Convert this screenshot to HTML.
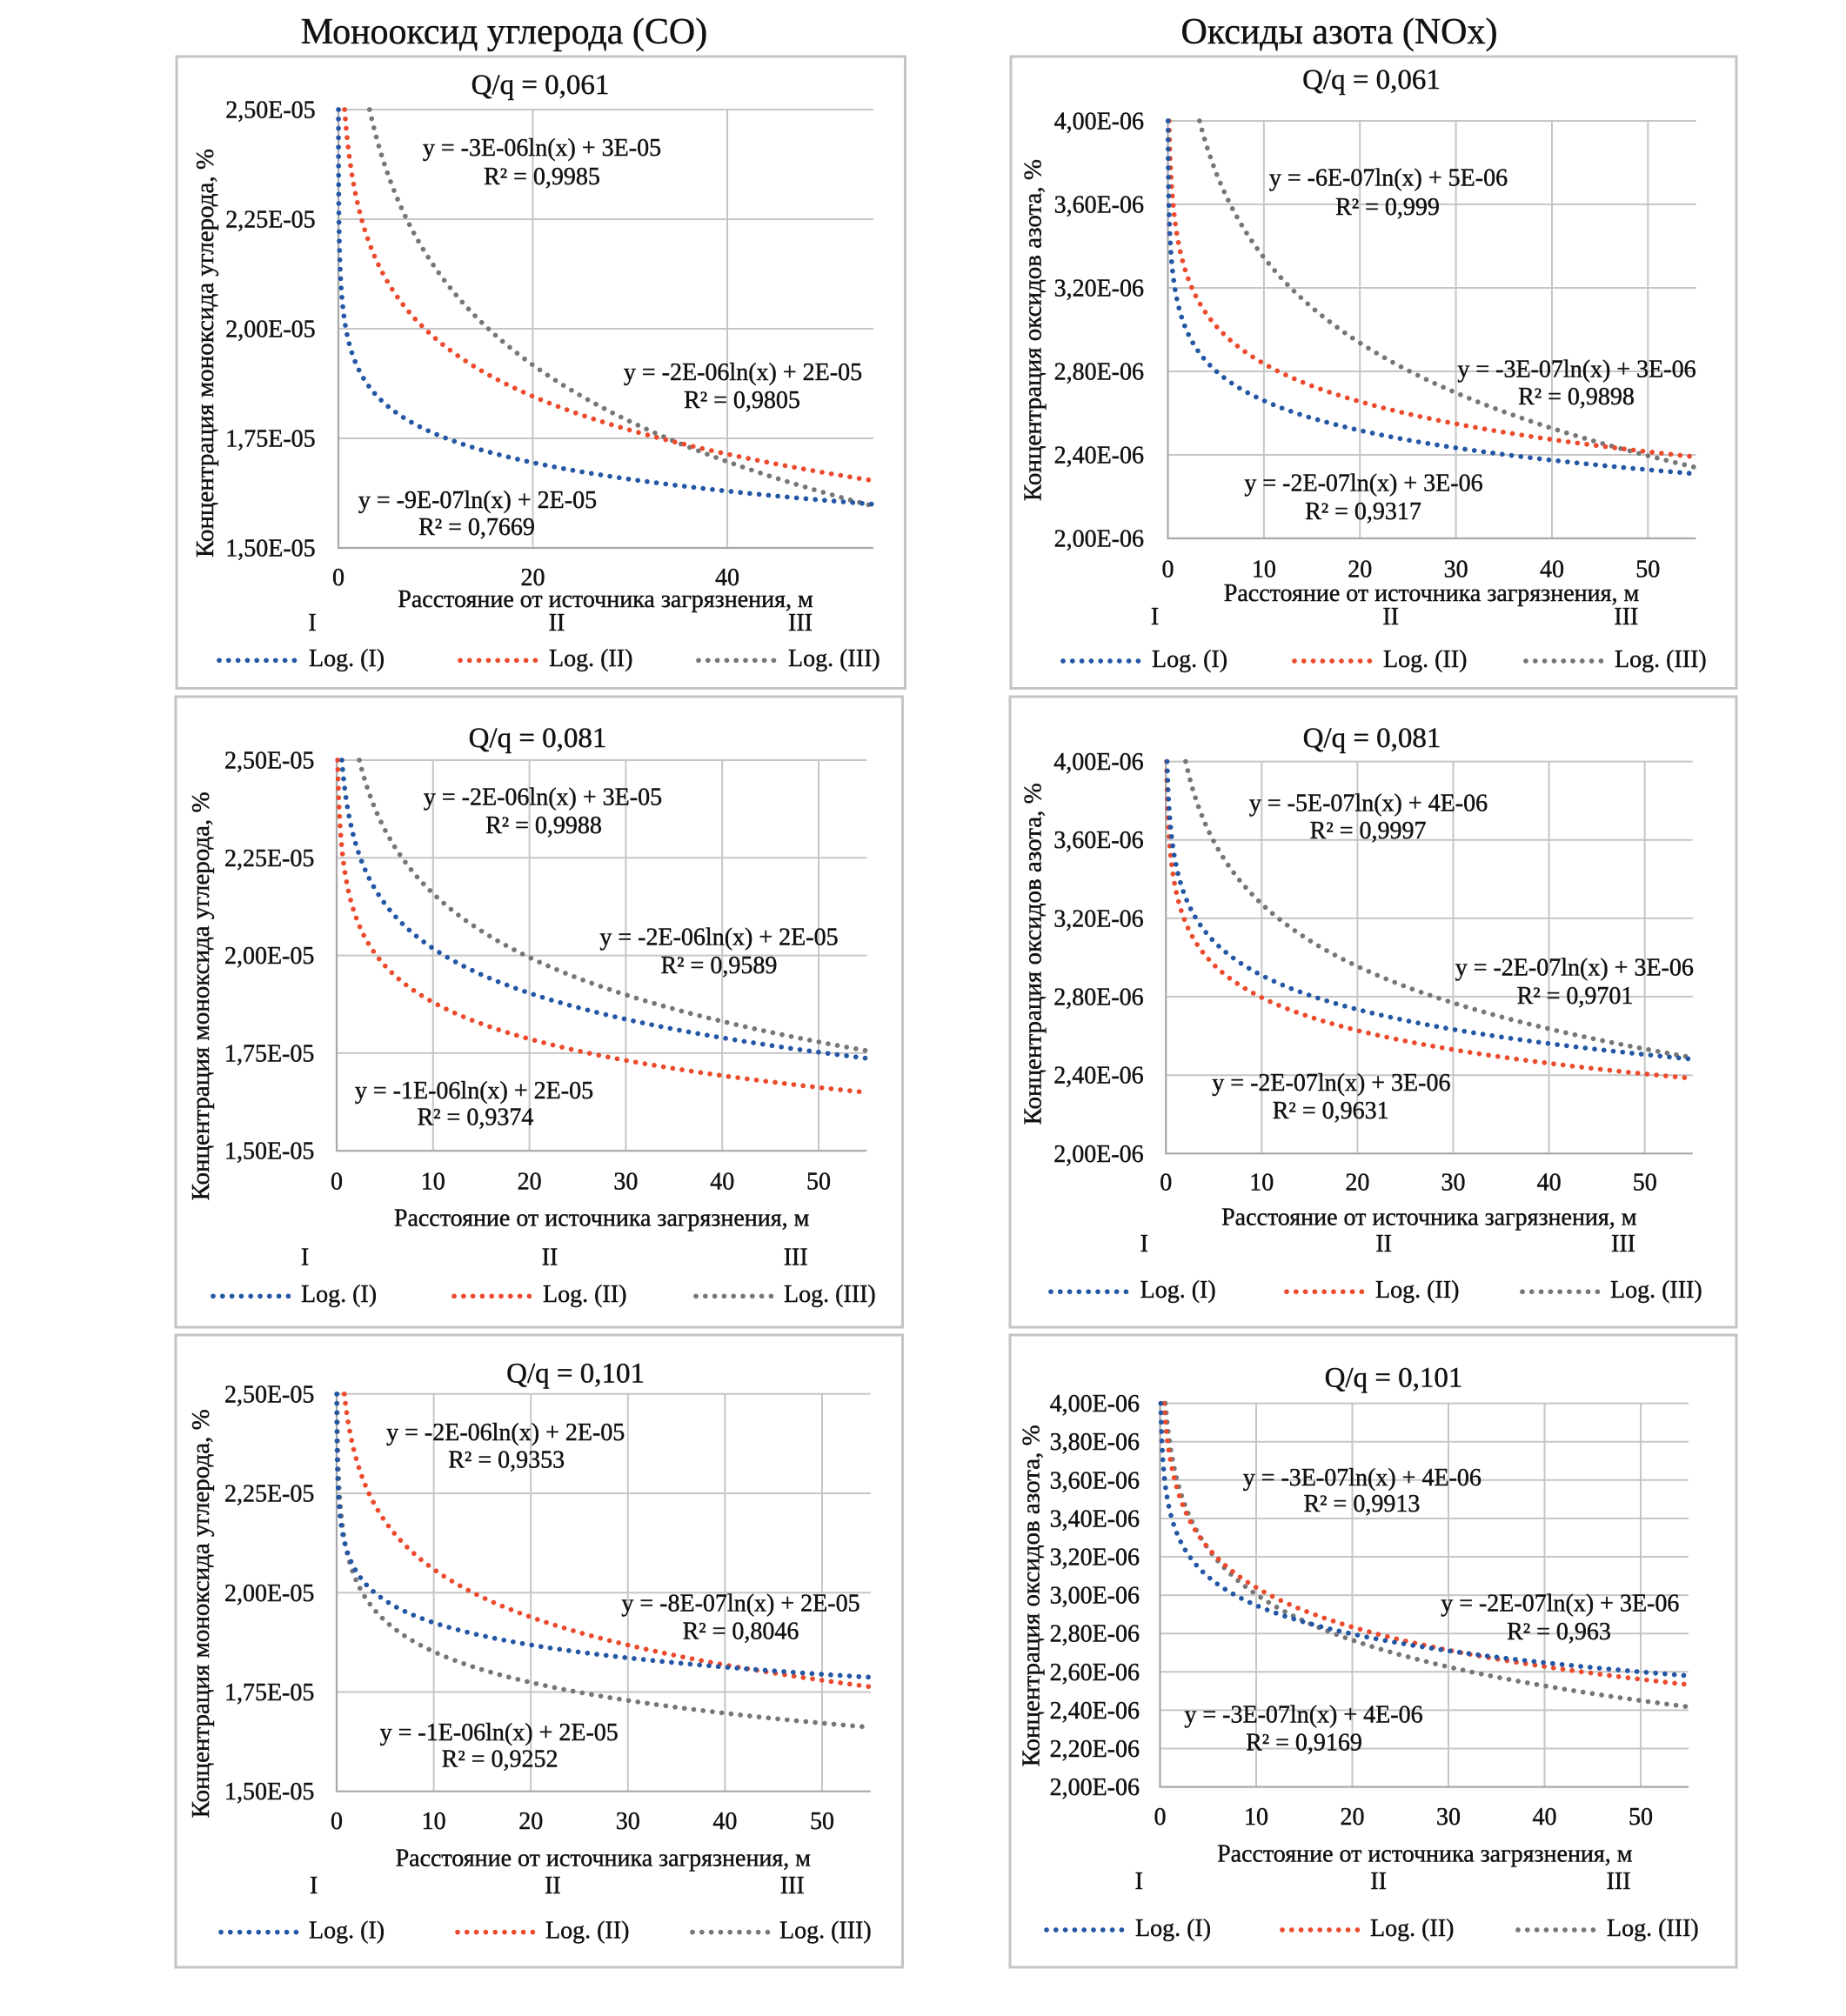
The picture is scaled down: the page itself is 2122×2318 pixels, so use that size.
<!DOCTYPE html>
<html><head><meta charset="utf-8">
<style>
html,body{margin:0;padding:0;background:#fff;}
svg{display:block;font-family:"Liberation Serif","Times New Roman",serif;}
text{fill:#111;stroke:#111;stroke-width:0.45px;}
.h{font-size:42px;text-anchor:middle;}
.q{font-size:33px;text-anchor:middle;}
.yt{font-size:28px;text-anchor:end;}
.xt{font-size:28px;text-anchor:middle;}
.xa{font-size:28px;text-anchor:middle;}
.ya{font-size:29px;text-anchor:middle;}
.r{font-size:28px;text-anchor:middle;}
.lg{font-size:28px;}
.eq{font-size:28px;text-anchor:middle;}
.box{fill:none;stroke:#c4c4c4;stroke-width:3;}
.grid{fill:none;stroke:#c6c6c6;stroke-width:2;}
.axis{fill:none;stroke:#a8a8a8;stroke-width:2.2;}
.dot{fill:none;stroke-linecap:round;stroke-dasharray:0 10.8;stroke-width:5.7;}
</style></head>
<body>
<svg id="s" width="2122" height="2318" viewBox="0 0 2122 2318" xmlns="http://www.w3.org/2000/svg">
<rect width="2122" height="2318" fill="#fff"/>

<!-- column titles -->
<text class="h" x="579.5" y="50">Монооксид углерода (CO)</text>
<text class="h" x="1539.5" y="50">Оксиды азота (NOx)</text>

<!-- boxes -->
<rect class="box" x="203" y="65" width="837.5" height="726.5"/>
<rect class="box" x="1162" y="65" width="834" height="726.5"/>
<rect class="box" x="202" y="801" width="835.5" height="725"/>
<rect class="box" x="1161" y="801" width="835" height="725"/>
<rect class="box" x="202" y="1535" width="835.5" height="727"/>
<rect class="box" x="1161" y="1535" width="835" height="727"/>

<!-- ================= PANEL A ================= -->
<path class="grid" d="M389 126H1004M389 252H1004M389 378H1004M389 504H1004M612.5 126V630M836 126V630"/>
<path class="axis" d="M389 126V630H1004"/>
<text class="q" x="621" y="108">Q/q = 0,061</text>
<text class="yt" x="362.7" y="135.5">2,50E-05</text>
<text class="yt" x="362.7" y="261.5">2,25E-05</text>
<text class="yt" x="362.7" y="387.5">2,00E-05</text>
<text class="yt" x="362.7" y="513.5">1,75E-05</text>
<text class="yt" x="362.7" y="639.5">1,50E-05</text>
<text class="xt" x="389" y="673">0</text>
<text class="xt" x="612.5" y="673">20</text>
<text class="xt" x="836" y="673">40</text>
<text class="xa" x="696" y="698">Расстояние от источника загрязнения, м</text>
<text class="ya" transform="translate(245,406) rotate(-90)">Концентрация моноксида углерода, %</text>
<text class="r" x="359" y="725">I</text>
<text class="r" x="640" y="725">II</text>
<text class="r" x="920" y="725">III</text>
<text class="eq" x="623" y="179">y = -3E-06ln(x) + 3E-05</text>
<text class="eq" x="623" y="212">R² = 0,9985</text>
<text class="eq" x="854" y="437">y = -2E-06ln(x) + 2E-05</text>
<text class="eq" x="853" y="469">R² = 0,9805</text>
<text class="eq" x="549" y="584">y = -9E-07ln(x) + 2E-05</text>
<text class="eq" x="548" y="615">R² = 0,7669</text>
<path class="dot" stroke="#2356a4" d="M252 759.3H341"/>
<text class="lg" x="355" y="766">Log. (I)</text>
<path class="dot" stroke="#ec4a2c" d="M529 759.3H618"/>
<text class="lg" x="631" y="766">Log. (II)</text>
<path class="dot" stroke="#767676" d="M803 759.3H892"/>
<text class="lg" x="906" y="766">Log. (III)</text>

<!-- ================= PANEL B ================= -->
<path class="grid" d="M1342.5 139H1949.5M1342.5 235H1949.5M1342.5 331H1949.5M1342.5 427H1949.5M1342.5 523H1949.5M1452.9 139V619M1563.2 139V619M1673.6 139V619M1784 139V619M1894.3 139V619"/>
<path class="axis" d="M1342.5 139V619H1949.5"/>
<text class="q" x="1576.5" y="102">Q/q = 0,061</text>
<text class="yt" x="1315" y="148.5">4,00E-06</text>
<text class="yt" x="1315" y="244.5">3,60E-06</text>
<text class="yt" x="1315" y="340.5">3,20E-06</text>
<text class="yt" x="1315" y="436.5">2,80E-06</text>
<text class="yt" x="1315" y="532.5">2,40E-06</text>
<text class="yt" x="1315" y="628.5">2,00E-06</text>
<text class="xt" x="1342.5" y="663.3">0</text>
<text class="xt" x="1452.9" y="663.3">10</text>
<text class="xt" x="1563.2" y="663.3">20</text>
<text class="xt" x="1673.6" y="663.3">30</text>
<text class="xt" x="1784" y="663.3">40</text>
<text class="xt" x="1894.3" y="663.3">50</text>
<text class="xa" x="1645.5" y="691">Расстояние от источника загрязнения, м</text>
<text class="ya" transform="translate(1196.5,379.5) rotate(-90)">Концентрация оксидов азота, %</text>
<text class="r" x="1327.5" y="718">I</text>
<text class="r" x="1598.7" y="718">II</text>
<text class="r" x="1869.4" y="718">III</text>
<text class="eq" x="1596" y="213.6">y = -6E-07ln(x) + 5E-06</text>
<text class="eq" x="1595" y="246.8">R² = 0,999</text>
<text class="eq" x="1812.5" y="433.3">y = -3E-07ln(x) + 3E-06</text>
<text class="eq" x="1812" y="465">R² = 0,9898</text>
<text class="eq" x="1567.5" y="564.7">y = -2E-07ln(x) + 3E-06</text>
<text class="eq" x="1567" y="596.8">R² = 0,9317</text>
<path class="dot" stroke="#2356a4" d="M1222 760H1311"/>
<text class="lg" x="1324" y="767">Log. (I)</text>
<path class="dot" stroke="#ec4a2c" d="M1488 760H1577"/>
<text class="lg" x="1590" y="767">Log. (II)</text>
<path class="dot" stroke="#767676" d="M1754 760H1843"/>
<text class="lg" x="1856" y="767">Log. (III)</text>

<!-- ================= PANEL C ================= -->
<path class="grid" d="M387 874H996.4M387 986.3H996.4M387 1098.6H996.4M387 1210.9H996.4M497.8 874V1323.2M608.6 874V1323.2M719.4 874V1323.2M830.2 874V1323.2M941 874V1323.2"/>
<path class="axis" d="M387 874V1323.2H996.4"/>
<text class="q" x="618" y="859.2">Q/q = 0,081</text>
<text class="yt" x="361.4" y="883.5">2,50E-05</text>
<text class="yt" x="361.4" y="995.8">2,25E-05</text>
<text class="yt" x="361.4" y="1108.1">2,00E-05</text>
<text class="yt" x="361.4" y="1220.4">1,75E-05</text>
<text class="yt" x="361.4" y="1332.7">1,50E-05</text>
<text class="xt" x="387" y="1367.7">0</text>
<text class="xt" x="497.8" y="1367.7">10</text>
<text class="xt" x="608.6" y="1367.7">20</text>
<text class="xt" x="719.4" y="1367.7">30</text>
<text class="xt" x="830.2" y="1367.7">40</text>
<text class="xt" x="941" y="1367.7">50</text>
<text class="xa" x="691.6" y="1409.6">Расстояние от источника загрязнения, м</text>
<text class="ya" transform="translate(240,1145.4) rotate(-90)">Концентрация моноксида углерода, %</text>
<text class="r" x="350.6" y="1454.5">I</text>
<text class="r" x="632" y="1454.5">II</text>
<text class="r" x="914.7" y="1454.5">III</text>
<text class="eq" x="624" y="925.6">y = -2E-06ln(x) + 3E-05</text>
<text class="eq" x="625" y="957.8">R² = 0,9988</text>
<text class="eq" x="826.5" y="1086.6">y = -2E-06ln(x) + 2E-05</text>
<text class="eq" x="826.4" y="1118.8">R² = 0,9589</text>
<text class="eq" x="545" y="1262.9">y = -1E-06ln(x) + 2E-05</text>
<text class="eq" x="546.4" y="1293.6">R² = 0,9374</text>
<path class="dot" stroke="#2356a4" d="M245 1490.3H334"/>
<text class="lg" x="346" y="1497">Log. (I)</text>
<path class="dot" stroke="#ec4a2c" d="M522 1490.3H611"/>
<text class="lg" x="624" y="1497">Log. (II)</text>
<path class="dot" stroke="#767676" d="M800 1490.3H889"/>
<text class="lg" x="901" y="1497">Log. (III)</text>

<!-- ================= PANEL D ================= -->
<path class="grid" d="M1340.2 875.6H1945.8M1340.2 965.7H1945.8M1340.2 1055.9H1945.8M1340.2 1146H1945.8M1340.2 1236.2H1945.8M1450.3 875.6V1326.3M1560.4 875.6V1326.3M1670.5 875.6V1326.3M1780.6 875.6V1326.3M1890.7 875.6V1326.3"/>
<path class="axis" d="M1340.2 875.6V1326.3H1945.8"/>
<text class="q" x="1577" y="859.2">Q/q = 0,081</text>
<text class="yt" x="1314.7" y="885.1">4,00E-06</text>
<text class="yt" x="1314.7" y="975.2">3,60E-06</text>
<text class="yt" x="1314.7" y="1065.4">3,20E-06</text>
<text class="yt" x="1314.7" y="1155.5">2,80E-06</text>
<text class="yt" x="1314.7" y="1245.7">2,40E-06</text>
<text class="yt" x="1314.7" y="1335.8">2,00E-06</text>
<text class="xt" x="1340.2" y="1368.7">0</text>
<text class="xt" x="1450.3" y="1368.7">10</text>
<text class="xt" x="1560.4" y="1368.7">20</text>
<text class="xt" x="1670.5" y="1368.7">30</text>
<text class="xt" x="1780.6" y="1368.7">40</text>
<text class="xt" x="1890.7" y="1368.7">50</text>
<text class="xa" x="1642.8" y="1408.5">Расстояние от источника загрязнения, м</text>
<text class="ya" transform="translate(1196.6,1096.8) rotate(-90)">Концентрация оксидов азота, %</text>
<text class="r" x="1315.3" y="1439.2">I</text>
<text class="r" x="1590.7" y="1439.2">II</text>
<text class="r" x="1866" y="1439.2">III</text>
<text class="eq" x="1573" y="932.3">y = -5E-07ln(x) + 4E-06</text>
<text class="eq" x="1572.6" y="964">R² = 0,9997</text>
<text class="eq" x="1809.8" y="1121.3">y = -2E-07ln(x) + 3E-06</text>
<text class="eq" x="1810.5" y="1154">R² = 0,9701</text>
<text class="eq" x="1530.4" y="1254.2">y = -2E-07ln(x) + 3E-06</text>
<text class="eq" x="1529.7" y="1285.9">R² = 0,9631</text>
<path class="dot" stroke="#2356a4" d="M1208 1485.2H1297"/>
<text class="lg" x="1310.6" y="1492">Log. (I)</text>
<path class="dot" stroke="#ec4a2c" d="M1479 1485.2H1568"/>
<text class="lg" x="1581" y="1492">Log. (II)</text>
<path class="dot" stroke="#767676" d="M1750 1485.2H1839"/>
<text class="lg" x="1851" y="1492">Log. (III)</text>

<!-- ================= PANEL E ================= -->
<path class="grid" d="M387 1602.8H1000.8M387 1717H1000.8M387 1831.3H1000.8M387 1945.5H1000.8M498.6 1602.8V2059.7M610.2 1602.8V2059.7M721.8 1602.8V2059.7M833.4 1602.8V2059.7M945 1602.8V2059.7"/>
<path class="axis" d="M387 1602.8V2059.7H1000.8"/>
<text class="q" x="661.6" y="1589.5">Q/q = 0,101</text>
<text class="yt" x="361.4" y="1612.3">2,50E-05</text>
<text class="yt" x="361.4" y="1726.5">2,25E-05</text>
<text class="yt" x="361.4" y="1840.8">2,00E-05</text>
<text class="yt" x="361.4" y="1955">1,75E-05</text>
<text class="yt" x="361.4" y="2069.2">1,50E-05</text>
<text class="xt" x="387" y="2103">0</text>
<text class="xt" x="498.6" y="2103">10</text>
<text class="xt" x="610.2" y="2103">20</text>
<text class="xt" x="721.8" y="2103">30</text>
<text class="xt" x="833.4" y="2103">40</text>
<text class="xt" x="945" y="2103">50</text>
<text class="xa" x="693.3" y="2145.5">Расстояние от источника загрязнения, м</text>
<text class="ya" transform="translate(240,1855.3) rotate(-90)">Концентрация моноксида углерода, %</text>
<text class="r" x="360.7" y="2177.2">I</text>
<text class="r" x="635.4" y="2177.2">II</text>
<text class="r" x="910.7" y="2177.2">III</text>
<text class="eq" x="581.2" y="1656">y = -2E-06ln(x) + 2E-05</text>
<text class="eq" x="582.2" y="1687.7">R² = 0,9353</text>
<text class="eq" x="851.5" y="1852.7">y = -8E-07ln(x) + 2E-05</text>
<text class="eq" x="851.5" y="1884.4">R² = 0,8046</text>
<text class="eq" x="573.7" y="2000.9">y = -1E-06ln(x) + 2E-05</text>
<text class="eq" x="574.6" y="2031.6">R² = 0,9252</text>
<path class="dot" stroke="#2356a4" d="M254 2221.6H343"/>
<text class="lg" x="355" y="2228.5">Log. (I)</text>
<path class="dot" stroke="#ec4a2c" d="M526 2221.6H615"/>
<text class="lg" x="627" y="2228.5">Log. (II)</text>
<path class="dot" stroke="#767676" d="M796 2221.6H885"/>
<text class="lg" x="896" y="2228.5">Log. (III)</text>

<!-- ================= PANEL F ================= -->
<path class="grid" d="M1333.5 1613.6H1941M1333.5 1657.7H1941M1333.5 1701.8H1941M1333.5 1745.9H1941M1333.5 1790H1941M1333.5 1834.1H1941M1333.5 1878.2H1941M1333.5 1922.3H1941M1333.5 1966.4H1941M1333.5 2010.5H1941M1444 1613.6V2054.6M1554.5 1613.6V2054.6M1665 1613.6V2054.6M1775.5 1613.6V2054.6M1886 1613.6V2054.6"/>
<path class="axis" d="M1333.5 1613.6V2054.6H1941"/>
<text class="q" x="1602" y="1594.7">Q/q = 0,101</text>
<text class="yt" x="1310" y="1623.1">4,00E-06</text>
<text class="yt" x="1310" y="1667.2">3,80E-06</text>
<text class="yt" x="1310" y="1711.3">3,60E-06</text>
<text class="yt" x="1310" y="1755.4">3,40E-06</text>
<text class="yt" x="1310" y="1799.5">3,20E-06</text>
<text class="yt" x="1310" y="1843.6">3,00E-06</text>
<text class="yt" x="1310" y="1887.7">2,80E-06</text>
<text class="yt" x="1310" y="1931.8">2,60E-06</text>
<text class="yt" x="1310" y="1975.9">2,40E-06</text>
<text class="yt" x="1310" y="2020">2,20E-06</text>
<text class="yt" x="1310" y="2064.1">2,00E-06</text>
<text class="xt" x="1333.5" y="2098">0</text>
<text class="xt" x="1444" y="2098">10</text>
<text class="xt" x="1554.5" y="2098">20</text>
<text class="xt" x="1665" y="2098">30</text>
<text class="xt" x="1775.5" y="2098">40</text>
<text class="xt" x="1886" y="2098">50</text>
<text class="xa" x="1637.8" y="2140.4">Расстояние от источника загрязнения, м</text>
<text class="ya" transform="translate(1194.6,1834.8) rotate(-90)">Концентрация оксидов азота, %</text>
<text class="r" x="1309.3" y="2172">I</text>
<text class="r" x="1584.6" y="2172">II</text>
<text class="r" x="1860.6" y="2172">III</text>
<text class="eq" x="1565.8" y="1708">y = -3E-07ln(x) + 4E-06</text>
<text class="eq" x="1565.4" y="1738">R² = 0,9913</text>
<text class="eq" x="1793.3" y="1852.7">y = -2E-07ln(x) + 3E-06</text>
<text class="eq" x="1792" y="1884.9">R² = 0,963</text>
<text class="eq" x="1498.5" y="1980.5">y = -3E-07ln(x) + 4E-06</text>
<text class="eq" x="1499" y="2012.6">R² = 0,9169</text>
<path class="dot" stroke="#2356a4" d="M1203 2219H1292"/>
<text class="lg" x="1305" y="2226">Log. (I)</text>
<path class="dot" stroke="#ec4a2c" d="M1474 2219H1563"/>
<text class="lg" x="1575" y="2226">Log. (II)</text>
<path class="dot" stroke="#767676" d="M1745 2219H1834"/>
<text class="lg" x="1847" y="2226">Log. (III)</text>

<g id="curves"></g>
</svg>
<script>
(function(){
var P=[
 {x0:389,ux:11.175,yt:126,yb:630,vmax:2.5,vmin:1.5,c:[[2.870,0.318],[2.415,0.190],[1.976,0.0939]]},
 {x0:1342.5,ux:11.036,yt:139,yb:619,vmax:4,vmin:2,c:[[4.704,0.59],[3.440,0.262],[3.133,0.2056]]},
 {x0:387,ux:11.08,yt:874,yb:1323.2,vmax:2.5,vmin:1.5,c:[[2.702,0.236],[2.192,0.1354],[2.398,0.165]]},
 {x0:1340.2,ux:11.01,yt:875.6,yb:1326.3,vmax:4,vmin:2,c:[[4.333,0.46],[3.353,0.242],[3.487,0.251]]},
 {x0:387,ux:11.16,yt:1602.8,yb:2059.7,vmax:2.5,vmin:1.5,c:[[2.1087,0.1117],[2.4583,0.1735],[2.110,0.0806]]},
 {x0:1333.5,ux:11.05,yt:1613.6,yb:2054.6,vmax:4,vmin:2,c:[[3.796,0.344],[3.725,0.2975],[3.443,0.2155]]}
];
var cols=['#767676','#ec4a2c','#2356a4'];
var g=document.getElementById('curves');
var NS='http://www.w3.org/2000/svg';
P.forEach(function(p){
  p.c.forEach(function(ab,k){
    var a=ab[0],b=ab[1];
    var xs=Math.exp((a-p.vmax)/b); if(xs<0.002) xs=0.002;
    var n=600,d='';
    for(var i=0;i<=n;i++){
      var x=xs*Math.pow(55/xs,i/n);
      var v=a-b*Math.log(x);
      var px=p.x0+x*p.ux;
      var py=p.yt+(p.vmax-v)/(p.vmax-p.vmin)*(p.yb-p.yt);
      if(py<p.yt) py=p.yt;
      d+=(i?'L':'M')+px.toFixed(2)+' '+py.toFixed(2);
    }
    var e=document.createElementNS(NS,'path');
    e.setAttribute('d',d);
    e.setAttribute('class','dot');
    e.setAttribute('stroke',cols[k]);
    g.appendChild(e);
  });
});
})();
</script>
</body></html>
